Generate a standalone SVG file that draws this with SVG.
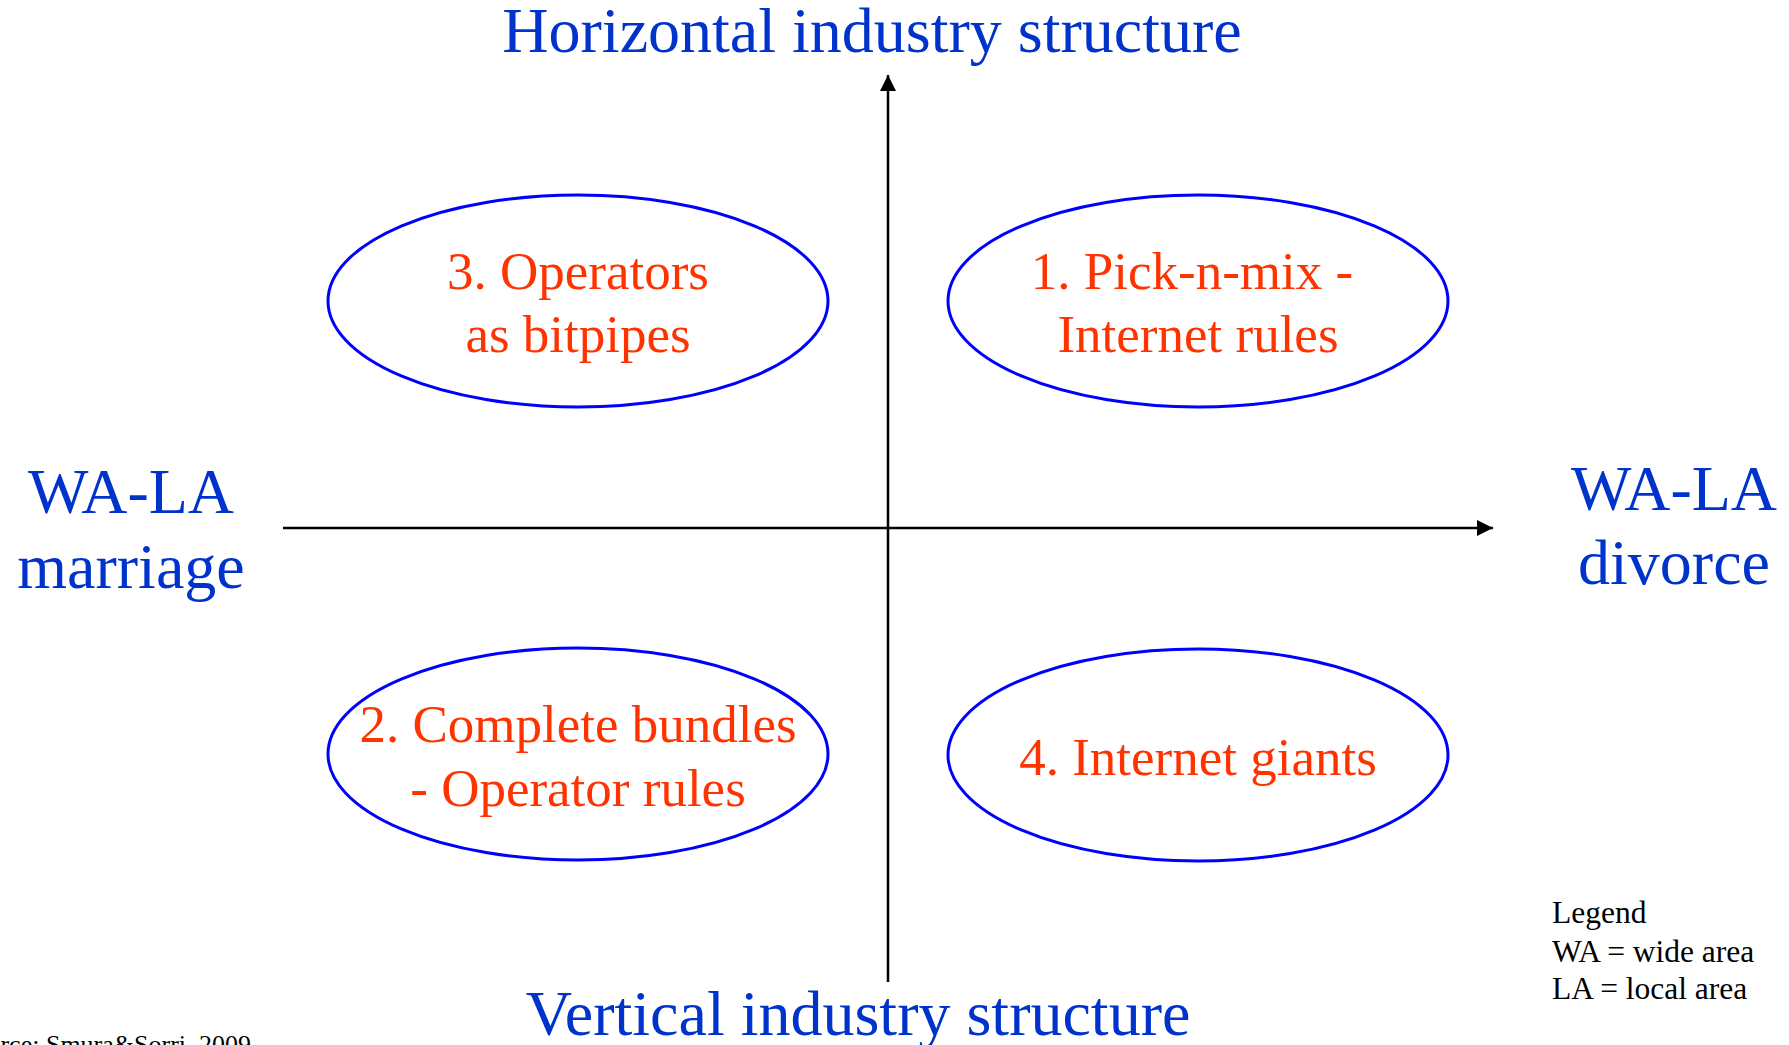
<svg xmlns="http://www.w3.org/2000/svg" width="1789" height="1045" viewBox="0 0 1789 1045">
  <style>
    .axis-title { font-family: "Liberation Serif", "Times New Roman", serif; font-size: 64px; fill: #0033cc; text-anchor: middle; }
    .quad { fill: none; stroke: #0000ff; stroke-width: 3; }
    .quad-label { font-family: "Liberation Serif", "Times New Roman", serif; font-size: 53px; fill: #ff3300; text-anchor: middle; }
    .note { font-family: "Liberation Serif", "Times New Roman", serif; font-size: 31.5px; fill: #000000; }
    .axis { stroke: #000000; stroke-width: 2.5; fill: none; }
  </style>
  <defs>
    <marker id="arrow" markerUnits="userSpaceOnUse" markerWidth="18" markerHeight="16" refX="16" refY="8" orient="auto">
      <path d="M0,0 L16,8 L0,16 Z" fill="#000000"/>
    </marker>
  </defs>

  <rect width="1789" height="1045" fill="#ffffff"/>

  <!-- axis titles -->
  <g id="title-top">
    <text class="axis-title" x="872" y="52">Horizontal industry structure</text>
  </g>
  <g id="title-bottom">
    <text class="axis-title" x="858" y="1035">Vertical industry structure</text>
  </g>
  <g id="title-left">
    <text class="axis-title" x="131" y="513">WA-LA</text>
    <text class="axis-title" x="131" y="588">marriage</text>
  </g>
  <g id="title-right">
    <text class="axis-title" x="1674" y="510">WA-LA</text>
    <text class="axis-title" x="1674" y="584">divorce</text>
  </g>

  <!-- axes -->
  <g id="connectors">
    <line class="axis" x1="888" y1="982" x2="888" y2="75" marker-end="url(#arrow)"/>
    <line class="axis" x1="283" y1="528" x2="1493" y2="528" marker-end="url(#arrow)"/>
  </g>

  <!-- quadrant scenarios -->
  <g id="q1-pick-n-mix">
    <ellipse class="quad" cx="1198" cy="301" rx="250" ry="106"/>
    <text class="quad-label" x="1192" y="289">1. Pick-n-mix -</text>
    <text class="quad-label" x="1198" y="352">Internet rules</text>
  </g>
  <g id="q2-complete-bundles">
    <ellipse class="quad" cx="578" cy="754" rx="250" ry="106"/>
    <text class="quad-label" x="578" y="742">2. Complete bundles</text>
    <text class="quad-label" x="578" y="806">- Operator rules</text>
  </g>
  <g id="q3-bitpipes">
    <ellipse class="quad" cx="578" cy="301" rx="250" ry="106"/>
    <text class="quad-label" x="578" y="289">3. Operators</text>
    <text class="quad-label" x="578" y="352">as bitpipes</text>
  </g>
  <g id="q4-internet-giants">
    <ellipse class="quad" cx="1198" cy="755" rx="250" ry="106"/>
    <text class="quad-label" x="1198" y="775">4. Internet giants</text>
  </g>

  <!-- legend -->
  <g id="legend">
    <text class="note" x="1552" y="923">Legend</text>
    <text class="note" x="1552" y="962">WA = wide area</text>
    <text class="note" x="1552" y="999">LA = local area</text>
  </g>

  <!-- source -->
  <g id="source">
    <text class="note" x="-40" y="1053" style="font-size:26px">Source: Smura&amp;Sorri, 2009</text>
  </g>
</svg>
